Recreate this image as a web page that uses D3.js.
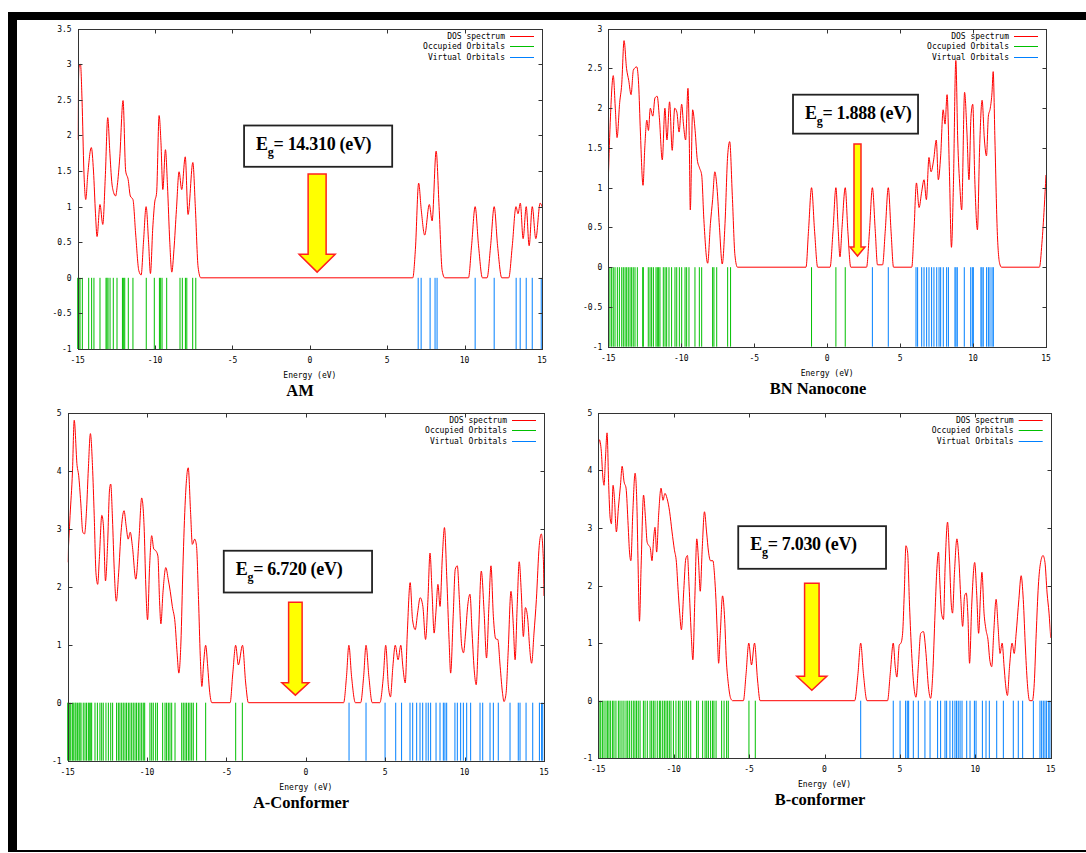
<!DOCTYPE html>
<html>
<head>
<meta charset="utf-8">
<script src="https://cdn.jsdelivr.net/npm/d3@7/dist/d3.min.js"></script>
<style>
  body { margin: 0; background: #fff; }
  svg { display: block; }
</style>
</head>
<body>
<svg id="chart" width="1086" height="853"></svg>
<script>
// ---- data ----
const energyTicks = [-15, -10, -5, 0, 5, 10, 15];
const amYTicks = [-1, -0.5, 0, 0.5, 1, 1.5, 2, 2.5, 3, 3.5];
const bnYTicks = [-1, -0.5, 0, 0.5, 1, 1.5, 2, 2.5, 3];
const confYTicks = [-1, 0, 1, 2, 3, 4, 5];
const legendLabels = ["DOS spectrum", "Occupied Orbitals", "Virtual Orbitals"];
const panelTitles = ["AM", "BN Nanocone", "A-Conformer", "B-conformer"];
const gapValues = ["14.310", "1.888", "6.720", "7.030"];

const amDos = [[-15,1.94],[-14.92,2.95],[-14.82,3.0],[-14.72,2.5],[-14.6,1.5],[-14.48,1.1],[-14.35,1.45],[-14.12,1.83],
  [-13.98,1.5],[-13.85,0.9],[-13.75,0.58],[-13.56,1.03],[-13.38,0.75],[-13.22,1.4],[-13.06,2.25],[-12.92,1.75],
  [-12.8,1.35],[-12.68,1.2],[-12.55,1.15],[-12.44,1.3],[-12.28,1.7],[-12.07,2.49],[-11.9,1.5],[-11.74,1.38],
  [-11.6,1.15],[-11.43,1.1],[-11.25,0.6],[-11.05,0.1],[-10.9,0.04],[-10.75,0.5],[-10.58,1.0],[-10.42,0.5],
  [-10.3,0.06],[-10.15,0.7],[-10.03,1.05],[-9.9,1.2],[-9.74,2.28],[-9.62,1.9],[-9.5,1.24],[-9.33,1.8],[-9.2,1.3],
  [-9.05,0.5],[-8.92,0.08],[-8.78,0.4],[-8.62,0.96],[-8.45,1.49],[-8.28,1.24],[-8.05,1.7],[-7.87,0.89],
  [-7.56,1.62],[-7.4,1.0],[-7.22,0.15],[-7.05,0],[6.65,0],[6.82,0.4],[7.03,1.33],[7.2,0.95],[7.42,0.6],
  [7.72,1.03],[7.9,0.8],[8.16,1.78],[8.35,1.0],[8.55,0.1],[8.72,0],[10.25,0],[10.45,0.45],[10.68,1.0],
  [10.9,0.45],[11.15,0],[11.45,0],[11.68,0.45],[11.91,1.0],[12.13,0.45],[12.4,0],[12.85,0],[13.08,0.45],
  [13.32,1.0],[13.45,0.9],[13.6,1.05],[13.78,0.55],[13.98,1.0],[14.17,0.45],[14.37,1.0],[14.6,0.55],
  [14.88,1.05],[15,1.0]];
const amOccupied = [-15.0,-14.92,-14.85,-14.70,-14.29,-14.10,-13.95,-13.56,-13.17,-13.11,-13.04,-12.91,-12.70,
  -12.46,-12.11,-12.03,-11.96,-11.73,-11.43,-10.57,-10.05,-9.72,-9.64,-9.55,-9.25,-8.39,-8.24,-8.04,-7.95,
  -7.57,-7.37];
const amVirtual = [7.0,7.19,7.77,8.09,8.22,10.68,11.91,13.33,13.59,13.98,14.37,14.95];

const bnDos = [[-15,1.1],[-14.85,1.9],[-14.66,2.41],[-14.52,2.0],[-14.4,1.63],[-14.22,2.07],[-14.08,2.3],
  [-13.92,2.85],[-13.75,2.5],[-13.6,2.35],[-13.44,2.17],[-13.28,2.48],[-13.05,2.52],[-12.92,2.3],[-12.8,1.7],
  [-12.62,1.03],[-12.5,1.5],[-12.36,1.85],[-12.25,1.72],[-12.12,2.0],[-11.95,1.9],[-11.8,2.13],[-11.65,2.15],
  [-11.5,1.88],[-11.3,1.35],[-11.12,2.0],[-10.98,1.6],[-10.8,2.08],[-10.62,1.47],[-10.45,2.0],[-10.3,1.95],
  [-10.15,1.7],[-9.97,2.05],[-9.85,1.8],[-9.7,1.6],[-9.54,2.25],[-9.45,1.6],[-9.38,0.72],[-9.22,1.98],
  [-9.05,1.72],[-8.9,1.35],[-8.75,1.25],[-8.6,1.16],[-8.45,0.6],[-8.19,0.05],[-8.0,0.55],[-7.85,0.85],
  [-7.7,1.2],[-7.55,1.0],[-7.38,0.5],[-7.19,0.04],[-7.0,0.55],[-6.82,1.4],[-6.68,1.58],[-6.5,0.9],
  [-6.32,0.15],[-6.15,0],[-1.45,0],[-1.28,0.45],[-1.07,1.0],[-0.86,0.45],[-0.65,0],[0.2,0],[0.4,0.45],
  [0.6,1.0],[0.75,0.5],[0.88,0.13],[1.02,0.5],[1.24,1.0],[1.42,0.45],[1.62,0],[2.7,0],[2.9,0.45],[3.1,1.0],
  [3.3,0.45],[3.45,0.03],[3.8,0.03],[3.98,0.45],[4.19,1.0],[4.38,0.45],[4.55,0],[5.8,0],[5.95,0.45],
  [6.12,1.06],[6.3,0.75],[6.48,0.95],[6.64,1.1],[6.8,0.85],[6.98,1.38],[7.12,1.2],[7.3,1.35],[7.48,1.6],
  [7.62,1.1],[7.78,1.4],[7.95,1.98],[8.08,1.8],[8.22,2.17],[8.38,1.2],[8.52,0.25],[8.65,1.0],[8.82,2.6],
  [8.95,1.6],[9.1,1.0],[9.22,0.72],[9.42,2.2],[9.58,1.7],[9.72,1.1],[9.86,1.9],[9.98,2.05],[10.12,1.1],
  [10.3,0.47],[10.45,1.5],[10.62,2.1],[10.78,1.6],[10.92,1.4],[11.05,1.9],[11.18,2.0],[11.3,2.2],
  [11.38,2.46],[11.5,1.6],[11.65,0.5],[11.82,0.05],[11.95,0],[14.55,0],[14.72,0.3],[14.88,0.75],[15,1.16]];
const bnOccupied = [-14.89,-14.77,-14.66,-14.54,-14.38,-14.24,-14.08,-13.97,-13.85,-13.74,-13.63,-13.51,
  -13.40,-13.29,-13.17,-13.01,-12.64,-12.60,-12.26,-12.14,-12.03,-11.91,-11.73,-11.64,-11.55,-11.46,-11.23,
  -11.11,-11.00,-10.84,-10.66,-10.43,-10.31,-10.13,-9.97,-9.74,-9.63,-9.47,-9.06,-8.76,-8.60,-7.85,-7.76,
  -7.57,-6.82,-6.62,-1.07,0.60,1.24];
const bnVirtual = [3.10,4.19,6.09,6.20,6.48,6.64,6.82,6.98,7.16,7.32,7.51,7.67,7.78,7.96,8.19,8.31,8.76,
  8.83,8.92,9.40,9.84,9.95,10.02,10.54,10.61,10.70,10.93,11.05,11.16,11.30,11.39];

const acDos = [[-15,2.42],[-14.85,3.23],[-14.7,3.98],[-14.59,4.87],[-14.41,4.09],[-14.31,3.92],[-14.18,3.46],
  [-14.05,2.94],[-13.94,2.91],[-13.81,3.34],[-13.7,4.03],[-13.57,4.64],[-13.44,4.09],[-13.33,3.23],[-13.22,2.24],
  [-13.11,2.04],[-13.01,2.47],[-12.85,3.23],[-12.75,3.05],[-12.62,2.10],[-12.49,2.71],[-12.36,3.69],
  [-12.29,3.77],[-12.18,3.17],[-12.07,2.30],[-11.94,1.75],[-11.79,2.24],[-11.64,2.94],[-11.45,3.31],
  [-11.32,3.05],[-11.19,2.82],[-11.06,2.94],[-10.93,2.71],[-10.71,2.13],[-10.51,2.82],[-10.34,3.53],
  [-10.19,3.05],[-10.08,2.01],[-9.97,1.43],[-9.84,2.36],[-9.71,2.88],[-9.58,2.65],[-9.45,2.62],[-9.32,2.53],
  [-9.21,1.72],[-9.13,1.36],[-9.0,1.90],[-8.82,2.33],[-8.67,2.13],[-8.54,1.92],[-8.41,1.66],[-8.24,1.38],
  [-8.11,0.86],[-8.0,0.51],[-7.87,1.03],[-7.74,2.36],[-7.59,3.51],[-7.41,4.05],[-7.26,3.28],[-7.15,2.73],
  [-7.0,2.82],[-6.89,2.71],[-6.76,1.78],[-6.65,0.80],[-6.55,0.28],[-6.44,0.68],[-6.31,0.99],[-6.18,0.62],
  [-6.07,0.22],[-5.92,0],[-4.77,0],[-4.6,0.51],[-4.42,0.99],[-4.25,0.65],[-3.99,0.99],[-3.79,0.34],[-3.62,0],
  [2.38,0],[2.56,0.45],[2.71,0.99],[2.88,0.45],[3.12,0],[3.45,0],[3.64,0.45],[3.79,0.99],[3.97,0.45],[4.18,0],
  [4.66,0],[4.88,0.45],[5.03,0.99],[5.2,0.28],[5.33,0.10],[5.48,0.62],[5.63,0.99],[5.81,0.74],[5.98,0.99],
  [6.11,0.62],[6.26,0.34],[6.39,1.20],[6.57,2.07],[6.72,1.43],[6.89,1.26],[7.04,1.55],[7.2,1.81],[7.37,1.66],
  [7.54,1.09],[7.69,1.78],[7.82,2.58],[7.95,1.90],[8.08,1.20],[8.19,1.55],[8.32,2.04],[8.45,1.66],[8.6,2.53],
  [8.73,3.02],[8.88,2.13],[9.02,1.09],[9.12,0.51],[9.28,1.49],[9.41,2.30],[9.54,2.36],[9.67,1.78],[9.82,0.97],
  [9.93,0.86],[10.06,1.20],[10.19,1.66],[10.34,1.87],[10.47,1.20],[10.62,0.51],[10.73,0.31],[10.88,1.20],
  [11.05,2.27],[11.23,1.55],[11.38,0.77],[11.53,1.66],[11.66,2.36],[11.81,1.49],[11.96,1.10],[12.09,1.09],
  [12.24,0.62],[12.39,0.16],[12.48,0.02],[12.61,0.16],[12.74,0.86],[12.92,1.92],[13.07,1.32],[13.18,0.74],
  [13.31,1.66],[13.44,2.43],[13.57,1.90],[13.7,1.14],[13.83,1.64],[13.98,1.43],[14.09,0.97],[14.22,0.68],
  [14.37,1.20],[14.52,1.78],[14.7,2.71],[14.83,2.91],[14.96,2.47],[15,1.84]];
const acOccupied = [-15.0,-14.90,-14.81,-14.71,-14.65,-14.54,-14.48,-14.39,-14.29,-14.23,-14.16,-14.02,
  -13.91,-13.81,-13.70,-13.64,-13.55,-13.49,-13.28,-13.13,-12.97,-12.86,-12.76,-12.59,-12.44,-12.29,-12.17,
  -11.92,-11.81,-11.71,-11.60,-11.50,-11.39,-11.29,-11.18,-11.08,-10.97,-10.87,-10.76,-10.66,-10.55,-10.45,
  -10.34,-10.24,-10.15,-9.82,-9.71,-9.61,-9.46,-9.35,-9.02,-8.87,-8.77,-8.66,-8.56,-8.45,-8.24,-7.82,-7.72,
  -7.61,-7.51,-7.40,-7.30,-7.19,-7.09,-6.88,-6.31,-4.42,-4.00];
const acVirtual = [2.72,3.79,4.99,5.66,6.03,6.56,6.73,6.98,7.19,7.36,7.57,7.71,7.86,8.20,8.45,8.66,8.76,
  8.87,9.39,9.54,9.75,9.92,10.13,10.38,10.97,11.14,11.60,11.81,12.12,12.86,13.38,13.49,13.87,14.29,14.71,
  14.85,14.92];

const bcDos = [[-15,4.39],[-14.93,4.53],[-14.8,4.33],[-14.71,3.92],[-14.62,3.74],[-14.53,4.18],[-14.42,4.65],
  [-14.31,3.74],[-14.22,3.19],[-14.13,3.07],[-14.02,3.74],[-13.93,3.51],[-13.8,2.93],[-13.67,3.34],
  [-13.53,3.74],[-13.42,4.07],[-13.29,3.80],[-13.16,3.69],[-13.02,3.04],[-12.93,2.58],[-12.84,2.43],
  [-12.71,3.28],[-12.56,3.95],[-12.44,3.39],[-12.36,2.34],[-12.27,1.38],[-12.16,2.34],[-12.0,3.57],
  [-11.87,3.16],[-11.76,2.75],[-11.64,2.69],[-11.56,2.66],[-11.44,2.43],[-11.33,2.81],[-11.24,3.01],
  [-11.13,2.58],[-11.0,3.22],[-10.84,3.69],[-10.71,3.48],[-10.58,3.60],[-10.44,3.51],[-10.27,3.28],
  [-10.11,2.93],[-9.96,2.63],[-9.82,2.40],[-9.71,1.93],[-9.6,1.52],[-9.49,1.23],[-9.33,1.93],[-9.2,2.46],
  [-9.09,2.52],[-8.98,1.99],[-8.84,1.17],[-8.73,0.71],[-8.6,1.76],[-8.47,2.81],[-8.36,2.46],[-8.24,1.90],
  [-8.11,2.63],[-7.96,3.28],[-7.82,2.93],[-7.69,2.58],[-7.56,2.43],[-7.4,2.43],[-7.29,2.17],[-7.2,1.76],
  [-7.11,1.17],[-7.02,0.65],[-6.91,1.17],[-6.76,1.82],[-6.62,1.41],[-6.51,0.71],[-6.38,0.30],[-6.22,0.04],
  [-6.09,0],[-5.38,0],[-5.2,0.47],[-5.02,1.0],[-4.84,0.62],[-4.64,1.0],[-4.44,0.36],[-4.27,0],[2.0,0],
  [2.22,0.47],[2.4,1.0],[2.58,0.47],[2.82,0],[4.18,0],[4.36,0.47],[4.56,1.0],[4.69,0.59],[4.8,0.41],
  [4.96,0.97],[5.07,1.0],[5.18,1.17],[5.29,1.87],[5.4,2.69],[5.51,2.58],[5.64,1.64],[5.78,0.82],[5.93,0.24],
  [6.07,0.06],[6.22,0.59],[6.38,1.17],[6.56,1.20],[6.73,0.82],[6.89,0.24],[7.04,0.04],[7.18,0.47],
  [7.33,1.52],[7.44,2.23],[7.56,2.58],[7.64,2.11],[7.76,1.52],[7.89,1.41],[8.0,2.34],[8.16,3.10],[8.29,2.46],
  [8.4,1.70],[8.49,1.52],[8.62,2.23],[8.78,2.81],[8.91,2.46],[9.04,1.76],[9.16,1.29],[9.29,1.82],[9.4,1.87],
  [9.51,1.47],[9.62,0.65],[9.76,1.64],[9.96,2.40],[10.09,1.87],[10.22,1.17],[10.36,1.93],[10.44,2.23],
  [10.58,1.52],[10.71,1.23],[10.84,1.06],[10.96,0.71],[11.09,0.59],[11.22,1.17],[11.38,1.76],[11.51,1.29],
  [11.64,0.82],[11.78,1.0],[11.91,0.59],[12.0,0.30],[12.13,0.09],[12.27,0.59],[12.44,1.0],[12.58,0.82],
  [12.71,1.17],[12.89,1.76],[13.04,2.17],[13.18,1.76],[13.33,0.88],[13.47,0.24],[13.6,0],[13.78,0],
  [13.91,0.30],[14.04,1.17],[14.18,1.99],[14.33,2.40],[14.49,2.52],[14.62,2.40],[14.76,1.87],[14.89,1.52],
  [15,1.09]];
const bcOccupied = [-14.95,-14.84,-14.73,-14.62,-14.49,-14.38,-14.29,-14.18,-14.05,-13.96,-13.83,-13.67,
  -13.56,-13.43,-13.30,-13.16,-13.05,-12.94,-12.81,-12.68,-12.57,-12.46,-12.35,-12.23,-12.01,-11.90,-11.75,
  -11.57,-11.46,-11.35,-11.24,-11.09,-10.95,-10.86,-10.73,-10.62,-10.51,-10.40,-10.29,-10.18,-10.02,-9.85,
  -9.69,-9.58,-9.41,-9.25,-9.14,-9.01,-8.87,-8.48,-8.37,-8.08,-7.92,-7.81,-7.70,-7.55,-7.42,-7.33,-7.19,
  -6.82,-6.66,-6.49,-6.38,-5.01,-4.59];
const bcVirtual = [2.40,4.56,5.01,5.38,5.49,5.58,5.89,6.22,6.66,7.0,7.50,7.70,7.99,8.10,8.32,8.50,8.65,
  8.76,8.87,8.99,9.12,9.43,9.65,9.94,10.05,10.47,10.71,10.93,11.42,11.86,12.52,12.85,13.14,13.85,14.29,
  14.40,14.51,14.62,14.73,14.87,14.95];

// ---- layout ----
const panels = [
  { dos: amDos, occ: amOccupied, virt: amVirtual, yTicks: amYTicks, yMax: 3.5,
    left: 77.7, right: 542, top: 28.7, bottom: 349, titleX: 300,
    box: [-4.25, 5.32, 2.14, 1.56], arrow: { e: 0.47, top: 1.46, neck: 0.33, tip: 0.08, shaft: 18, head: 36 } },
  { dos: bnDos, occ: bnOccupied, virt: bnVirtual, yTicks: bnYTicks, yMax: 3,
    left: 608.3, right: 1046, top: 28.7, bottom: 346.7, titleX: 818,
    box: [-2.34, 6.23, 2.17, 1.68], arrow: { e: 2.08, top: 1.55, neck: 0.255, tip: 0.14, shaft: 7, head: 15 } },
  { dos: acDos, occ: acOccupied, virt: acVirtual, yTicks: confYTicks, yMax: 5,
    left: 67.7, right: 544, top: 412.7, bottom: 760.7, titleX: 301,
    box: [-5.17, 4.17, 2.62, 1.90], arrow: { e: -0.66, top: 1.73, neck: 0.345, tip: 0.13, shaft: 13.5, head: 27 } },
  { dos: bcDos, occ: bcOccupied, virt: bcVirtual, yTicks: confYTicks, yMax: 5,
    left: 598.3, right: 1050.7, top: 412.7, bottom: 758.3, titleX: 820,
    box: [-5.72, 4.08, 3.03, 2.29], arrow: { e: -0.84, top: 2.04, neck: 0.425, tip: 0.18, shaft: 14.5, head: 30 } }
];

const colors = { dos: "#ff0000", occ: "#00c000", virt: "#0080ff", frame: "#333" };
const mono = "'DejaVu Sans Mono', monospace";
const serif = "'Liberation Serif', 'Times New Roman', serif";

const svg = d3.select("#chart");

// black frame around the figure
svg.append("rect").attr("x", 8).attr("y", 12).attr("width", 1078).attr("height", 8).attr("fill", "#000");
svg.append("rect").attr("x", 8).attr("y", 12).attr("width", 9).attr("height", 840).attr("fill", "#000");
svg.append("rect").attr("x", 8).attr("y", 850).attr("width", 1078).attr("height", 2).attr("fill", "#000");

panels.forEach(function(p, i) {
  const x = d3.scaleLinear().domain([-15, 15]).range([p.left, p.right]);
  const y = d3.scaleLinear().domain([-1, p.yMax]).range([p.bottom, p.top]);
  const g = svg.append("g");

  const clipId = "clip" + i;
  g.append("clipPath").attr("id", clipId).append("rect")
    .attr("x", p.left).attr("y", p.top).attr("width", p.right - p.left).attr("height", p.bottom - p.top);

  // orbital sticks from 0 down to -1
  g.selectAll("line.occ").data(p.occ).enter().append("line")
    .attr("x1", d => x(d)).attr("x2", d => x(d))
    .attr("y1", y(0)).attr("y2", y(-1))
    .attr("stroke", colors.occ).attr("stroke-width", 1);
  g.selectAll("line.virt").data(p.virt).enter().append("line")
    .attr("x1", d => x(d)).attr("x2", d => x(d))
    .attr("y1", y(0)).attr("y2", y(-1))
    .attr("stroke", colors.virt).attr("stroke-width", 1);

  // DOS spectrum
  const line = d3.line().x(d => x(d[0])).y(d => y(d[1])).curve(d3.curveMonotoneX);
  g.append("path").datum(p.dos)
    .attr("clip-path", "url(#" + clipId + ")")
    .attr("d", line).attr("fill", "none")
    .attr("stroke", colors.dos).attr("stroke-width", 1);

  // frame and mirrored ticks
  const L = Math.round(p.left) + 0.5, R = Math.round(p.right) + 0.5;
  const T = Math.round(p.top) + 0.5, B = Math.round(p.bottom) + 0.5;
  g.append("rect").attr("x", L).attr("y", T).attr("width", R - L).attr("height", B - T)
    .attr("fill", "none").attr("stroke", colors.frame).attr("stroke-width", 1);

  energyTicks.forEach(function(t) {
    const tx = Math.round(x(t)) + 0.5;
    g.append("line").attr("x1", tx).attr("x2", tx).attr("y1", B).attr("y2", B - 4).attr("stroke", colors.frame);
    g.append("line").attr("x1", tx).attr("x2", tx).attr("y1", T).attr("y2", T + 4).attr("stroke", colors.frame);
    g.append("text").attr("x", x(t)).attr("y", p.bottom + 14)
      .attr("text-anchor", "middle").attr("font-family", mono).attr("font-size", 8).attr("fill", "#000")
      .text(t);
  });
  p.yTicks.forEach(function(t) {
    const ty = Math.round(y(t)) + 0.5;
    g.append("line").attr("x1", L).attr("x2", L + 4).attr("y1", ty).attr("y2", ty).attr("stroke", colors.frame);
    g.append("line").attr("x1", R).attr("x2", R - 4).attr("y1", ty).attr("y2", ty).attr("stroke", colors.frame);
    g.append("text").attr("x", p.left - 6).attr("y", y(t) + 3)
      .attr("text-anchor", "end").attr("font-family", mono).attr("font-size", 8).attr("fill", "#000")
      .text(t);
  });

  g.append("text").attr("x", (p.left + p.right) / 2).attr("y", p.bottom + 29)
    .attr("text-anchor", "middle").attr("font-family", mono).attr("font-size", 8).attr("fill", "#000")
    .text("Energy (eV)");

  g.append("text").attr("x", p.titleX).attr("y", p.bottom + 47)
    .attr("text-anchor", "middle").attr("font-family", serif).attr("font-weight", "bold")
    .attr("font-size", 16.5).attr("fill", "#000")
    .text(panelTitles[i]);

  // legend
  const legColors = [colors.dos, colors.occ, colors.virt];
  legendLabels.forEach(function(lab, k) {
    const ly = p.top + 7.5 + k * 10.2;
    g.append("text").attr("x", p.right - 37).attr("y", ly + 3)
      .attr("text-anchor", "end").attr("font-family", mono).attr("font-size", 8).attr("fill", "#000")
      .text(lab);
    g.append("line").attr("x1", p.right - 32).attr("x2", p.right - 8)
      .attr("y1", Math.round(ly) + 0.5).attr("y2", Math.round(ly) + 0.5)
      .attr("stroke", legColors[k]).attr("stroke-width", 1);
  });

  // band gap box
  const bx0 = x(p.box[0]), bx1 = x(p.box[1]), by0 = y(p.box[2]), by1 = y(p.box[3]);
  g.append("rect").attr("x", bx0).attr("y", by0).attr("width", bx1 - bx0).attr("height", by1 - by0)
    .attr("fill", "#fff").attr("stroke", "#222").attr("stroke-width", 1.8);
  const label = g.append("text").attr("x", bx0 + 12).attr("y", by0 + 24)
    .attr("font-family", serif).attr("font-weight", "bold").attr("font-size", 18)
    .attr("letter-spacing", -0.3).attr("fill", "#000");
  label.append("tspan").text("E");
  label.append("tspan").attr("font-size", 12).attr("dy", 6).text("g");
  label.append("tspan").attr("dy", -6).text("= " + gapValues[i] + " (eV)");

  // arrow pointing into the gap
  const a = p.arrow, cx = x(a.e), hs = a.shaft / 2, hh = a.head / 2;
  const pts = [[cx - hs, y(a.top)], [cx + hs, y(a.top)], [cx + hs, y(a.neck)], [cx + hh, y(a.neck)],
               [cx, y(a.tip)], [cx - hh, y(a.neck)], [cx - hs, y(a.neck)]];
  g.append("polygon").attr("points", pts.map(q => q.join(",")).join(" "))
    .attr("fill", "#ffff00").attr("stroke", "#ff2020").attr("stroke-width", 1.5)
    .attr("stroke-linejoin", "miter");
});
</script>
</body>
</html>
